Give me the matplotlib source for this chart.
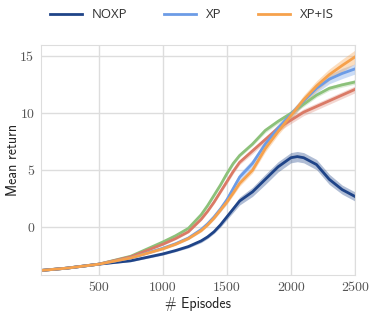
import matplotlib
matplotlib.use("Agg")
import matplotlib.pyplot as plt
import numpy as np

# episodes at which the curves were read
episodes = [50, 250, 500, 750, 1000, 1100, 1200, 1300, 1350, 1400, 1450, 1500, 1550,
            1600, 1700, 1800, 1900, 2000, 2050, 2100, 2200, 2300, 2400, 2500]

noxp = [-3.8, -3.6, -3.25, -2.95, -2.35, -2.05, -1.7, -1.2, -0.85, -0.4, 0.2, 0.9, 1.6,
        2.3, 3.1, 4.2, 5.3, 6.1, 6.2, 6.1, 5.5, 4.2, 3.3, 2.7]
noxp_std = [0.05, 0.05, 0.05, 0.08, 0.1, 0.1, 0.12, 0.15, 0.15, 0.15, 0.2, 0.25, 0.3,
            0.35, 0.4, 0.45, 0.45, 0.45, 0.45, 0.45, 0.45, 0.45, 0.4, 0.4]

xp = [-3.8, -3.6, -3.25, -2.7, -1.85, -1.45, -0.95, -0.2, 0.3, 0.9, 1.6, 2.4, 3.4,
      4.4, 5.6, 7.3, 8.7, 9.9, 10.5, 11.1, 12.2, 13.0, 13.5, 13.9]
xp_std = [0.05, 0.05, 0.05, 0.08, 0.1, 0.1, 0.12, 0.15, 0.15, 0.2, 0.25, 0.3, 0.35,
          0.35, 0.35, 0.35, 0.35, 0.35, 0.35, 0.35, 0.4, 0.4, 0.45, 0.45]

xpis = [-3.8, -3.6, -3.25, -2.7, -1.9, -1.5, -1.0, -0.3, 0.2, 0.8, 1.5, 2.2, 3.0,
        3.85, 5.0, 6.9, 8.4, 9.8, 10.5, 11.2, 12.4, 13.4, 14.2, 14.95]
xpis_std = [0.05, 0.05, 0.05, 0.08, 0.1, 0.1, 0.1, 0.12, 0.12, 0.15, 0.15, 0.2, 0.2,
            0.25, 0.25, 0.3, 0.3, 0.35, 0.35, 0.4, 0.45, 0.5, 0.55, 0.6]

green = [-3.8, -3.6, -3.25, -2.55, -1.3, -0.75, -0.1, 1.1, 1.9, 2.8, 3.7, 4.7, 5.6,
         6.3, 7.3, 8.5, 9.3, 10.0, 10.4, 10.8, 11.6, 12.2, 12.5, 12.75]
green_std = [0.05, 0.05, 0.05, 0.06, 0.08, 0.1, 0.1, 0.12, 0.12, 0.15, 0.15, 0.15, 0.15,
             0.15, 0.15, 0.2, 0.2, 0.2, 0.2, 0.2, 0.2, 0.2, 0.2, 0.2]

red = [-3.8, -3.6, -3.25, -2.6, -1.5, -1.0, -0.4, 0.7, 1.4, 2.2, 3.1, 4.0, 4.9,
       5.7, 6.7, 7.7, 8.7, 9.4, 9.75, 10.1, 10.6, 11.1, 11.6, 12.1]
red_std = [0.05, 0.05, 0.05, 0.06, 0.08, 0.1, 0.1, 0.12, 0.12, 0.15, 0.15, 0.2, 0.2,
           0.2, 0.25, 0.25, 0.3, 0.3, 0.3, 0.3, 0.3, 0.3, 0.3, 0.3]

x = np.array(episodes)

fig = plt.figure(figsize=(3.74, 3.17), dpi=100)
ax = fig.add_axes([0.11, 0.1325, 0.839, 0.7255])

# curvas sem legenda primeiro
for vals, std, cor in [(green, green_std, "#8cc17a"), (red, red_std, "#da7a66")]:
    m = np.array(vals); s = np.array(std)
    ax.fill_between(x, m - s, m + s, color=cor, alpha=0.3, lw=0)
    ax.plot(x, m, color=cor, lw=2)

linhas = []
for vals, std, cor, nome in [(noxp, noxp_std, "#1f4488", "NOXP"),
                             (xp, xp_std, "#6c9ce6", "XP"),
                             (xpis, xpis_std, "#f6a14c", "XP+IS")]:
    m = np.array(vals); s = np.array(std)
    ax.fill_between(x, m - s, m + s, color=cor, alpha=0.35, lw=0)
    l, = ax.plot(x, m, color=cor, lw=2, label=nome)
    linhas.append(l)

ax.set_xlim(50, 2500)
ax.set_ylim(-4.2, 16)
ax.set_xticks([500, 1000, 1500, 2000, 2500])
ax.set_yticks([0, 5, 10, 15])
ax.grid(True, color="#dddddd", lw=1)
ax.set_axisbelow(True)
for sp in ax.spines.values():
    sp.set_color("#dddddd")
ax.tick_params(length=0, pad=5, labelsize=10, labelcolor="#555555")
for t in ax.get_xticklabels() + ax.get_yticklabels():
    t.set_fontfamily("cmr10")

ax.set_xlabel("# Episodes", fontfamily="cmss10", fontsize=10, color="#222222", labelpad=2)
ax.set_ylabel("Mean return", fontfamily="cmss10", fontsize=10, color="#222222", labelpad=0)

fig.legend(handles=linhas, loc="center left", bbox_to_anchor=(0.102, 0.953), ncol=3,
           frameon=False, prop={"family": "Open Sans", "size": 9.5},
           handlelength=2.4, columnspacing=2.75, handletextpad=0.8,
           borderpad=0.4, labelcolor="#333333")

fig.savefig("out.png", dpi=100)
